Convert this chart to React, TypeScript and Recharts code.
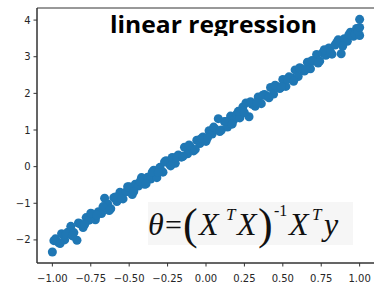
import { ReferenceArea, Scatter, ScatterChart, XAxis, YAxis, ZAxis } from 'recharts';

// sample x positions
const xs = [
  -1.0, -0.98, -0.96, -0.94, -0.92, -0.9, -0.88, -0.86, -0.84, -0.82, -0.8, -0.78, -0.76, -0.74, -0.72, -0.7,
  -0.68, -0.66, -0.64, -0.62, -0.6, -0.58, -0.56, -0.54, -0.52, -0.5, -0.48, -0.46, -0.44, -0.42, -0.4, -0.38,
  -0.36, -0.34, -0.32, -0.3, -0.28, -0.26, -0.24, -0.22, -0.2, -0.18, -0.16, -0.14, -0.12, -0.1, -0.08, -0.06,
  -0.04, -0.02, 0.0, 0.02, 0.04, 0.06, 0.08, 0.1, 0.12, 0.14, 0.16, 0.18, 0.2, 0.22, 0.24, 0.26, 0.28, 0.3,
  0.32, 0.34, 0.36, 0.38, 0.4, 0.42, 0.44, 0.46, 0.48, 0.5, 0.52, 0.54, 0.56, 0.58, 0.6, 0.62, 0.64, 0.66,
  0.68, 0.7, 0.72, 0.74, 0.76, 0.78, 0.8, 0.82, 0.84, 0.86, 0.88, 0.9, 0.92, 0.94, 0.96, 0.98, 1.0,
  -0.99, -0.95, -0.91, -0.87, -0.83, -0.79, -0.75, -0.71, -0.67, -0.63, -0.59, -0.55, -0.51, -0.47, -0.43,
  -0.39, -0.35, -0.31, -0.27, -0.23, -0.19, -0.15, -0.11, -0.07, -0.03, 0.01, 0.05, 0.09, 0.13, 0.17, 0.21,
  0.25, 0.29, 0.33, 0.37, 0.41, 0.45, 0.49, 0.53, 0.57, 0.61, 0.65, 0.69, 0.73, 0.77, 0.81, 0.85, 0.89,
  0.93, 0.97, 1.0, 0.99, 1.0
];

const ys = [
  -2.33, -1.97, -2.07, -1.83, -2.0, -1.79, -1.63, -1.8, -2.01, -1.56, -1.66, -1.39, -1.46, -1.29, -1.45, -1.23,
  -1.28, -0.86, -1.02, -1.15, -0.85, -0.95, -0.7, -0.88, -0.69, -0.55, -0.76, -0.48, -0.53, -0.3, -0.48, -0.29,
  -0.34, -0.1, -0.3, -0.02, -0.15, 0.16, 0.08, 0.25, 0.09, 0.32, 0.26, 0.53, 0.35, 0.54, 0.43, 0.72,
  0.63, 0.81, 0.69, 0.98, 0.89, 1.03, 1.31, 1.0, 1.23, 1.08, 1.38, 1.27, 1.43, 1.33, 1.63, 1.74, 1.36, 1.7,
  1.65, 1.9, 1.72, 1.97, 1.92, 2.16, 1.98, 2.19, 2.13, 2.38, 2.19, 2.45, 2.42, 2.64, 2.46, 2.67, 2.61, 2.85,
  2.67, 2.88, 3.06, 2.88, 3.11, 3.04, 3.24, 3.07, 3.32, 3.46, 3.08, 3.49, 3.42, 3.67, 3.56, 3.77, 4.02,
  -2.02, -2.1, -1.84, -1.89, -1.54, -1.58, -1.27, -1.32, -1.09, -1.2, -0.83, -0.87, -0.55, -0.68, -0.41,
  -0.47, -0.15, -0.16, 0.13, 0.02, 0.27, 0.28, 0.59, 0.47, 0.77, 0.79, 1.08, 0.96, 1.23, 1.16, 1.51,
  1.47, 1.77, 1.74, 1.95, 1.88, 2.22, 2.17, 2.39, 2.33, 2.7, 2.65, 2.9, 2.83, 3.19, 3.13, 3.38, 3.29,
  3.6, 3.62, 3.58, 3.7, 3.8
];

const xTicks = [-1, -0.75, -0.5, -0.25, 0, 0.25, 0.5, 0.75, 1];
const yTicks = [-2, -1, 0, 1, 2, 3, 4];

const points = xs.map((x, i) => ({ x, y: ys[i] }));

const minus = (s: string) => s.replace('-', '\u2212');
const tickStyle = { fontFamily: 'DejaVu Sans', fontSize: 10, fill: '#262626' };
const serif = 'Liberation Serif';

export default function App() {
  return (
    <div style={{ position: 'absolute', left: 0, top: 0, width: 374, height: 287, overflow: 'hidden', background: '#fff' }}>
      <ScatterChart width={376} height={287} margin={{ top: 8, right: 1, bottom: 0, left: 0 }}>
        <XAxis
          type="number"
          dataKey="x"
          domain={[-1.1, 1.1]}
          ticks={xTicks}
          interval={0}
          allowDataOverflow
          tickFormatter={(v: number) => minus(v.toFixed(2))}
          tick={tickStyle}
          tickSize={3.5}
          tickMargin={8}
          height={24}
          stroke="#333"
        />
        <YAxis
          type="number"
          dataKey="y"
          domain={[-2.63, 4.33]}
          ticks={yTicks}
          interval={0}
          allowDataOverflow
          tickFormatter={(v: number) => minus(String(v))}
          tick={tickStyle}
          tickSize={3.5}
          tickMargin={3}
          width={37}
          stroke="#333"
        />
        <ZAxis range={[42, 42]} />
        <ReferenceArea x1={-1.1} x2={1.1} y1={-2.63} y2={4.33} fill="none" stroke="#333" strokeWidth={1} />
        <Scatter data={points} fill="#1f77b4" isAnimationActive={false} />
      </ScatterChart>
      <svg width={374} height={287} style={{ position: 'absolute', left: 0, top: 0, pointerEvents: 'none' }}>
        <defs>
          <clipPath id="titleClip">
            <rect x={100} y={9} width={225} height={27} />
          </clipPath>
        </defs>
        <text
          x={110}
          y={33}
          clipPath="url(#titleClip)"
          fontFamily="Open Sans"
          fontWeight={700}
          fontSize={24}
          textLength={207}
          lengthAdjust="spacingAndGlyphs"
          fill="#000"
        >
          linear regression
        </text>
        <rect x={148} y={202} width={205} height={43} fill="#f6f6f6" />
        <g fontFamily={serif} fill="#111">
          <text x={148} y={235} fontSize={32} fontStyle="italic">θ</text>
          <text x={165} y={235} fontSize={30}>=</text>
          <text x={183} y={239} fontSize={44}>(</text>
          <text x={199} y={235} fontSize={32} fontStyle="italic">X</text>
          <text x={226} y={220} fontSize={17} fontStyle="italic">T</text>
          <text x={237} y={235} fontSize={32} fontStyle="italic">X</text>
          <text x={258} y={239} fontSize={44}>)</text>
          <text x={274} y={216} fontSize={16}>-1</text>
          <text x={289} y={235} fontSize={32} fontStyle="italic">X</text>
          <text x={312} y={220} fontSize={17} fontStyle="italic">T</text>
          <text x={324} y={235} fontSize={32} fontStyle="italic">y</text>
        </g>
      </svg>
    </div>
  );
}
